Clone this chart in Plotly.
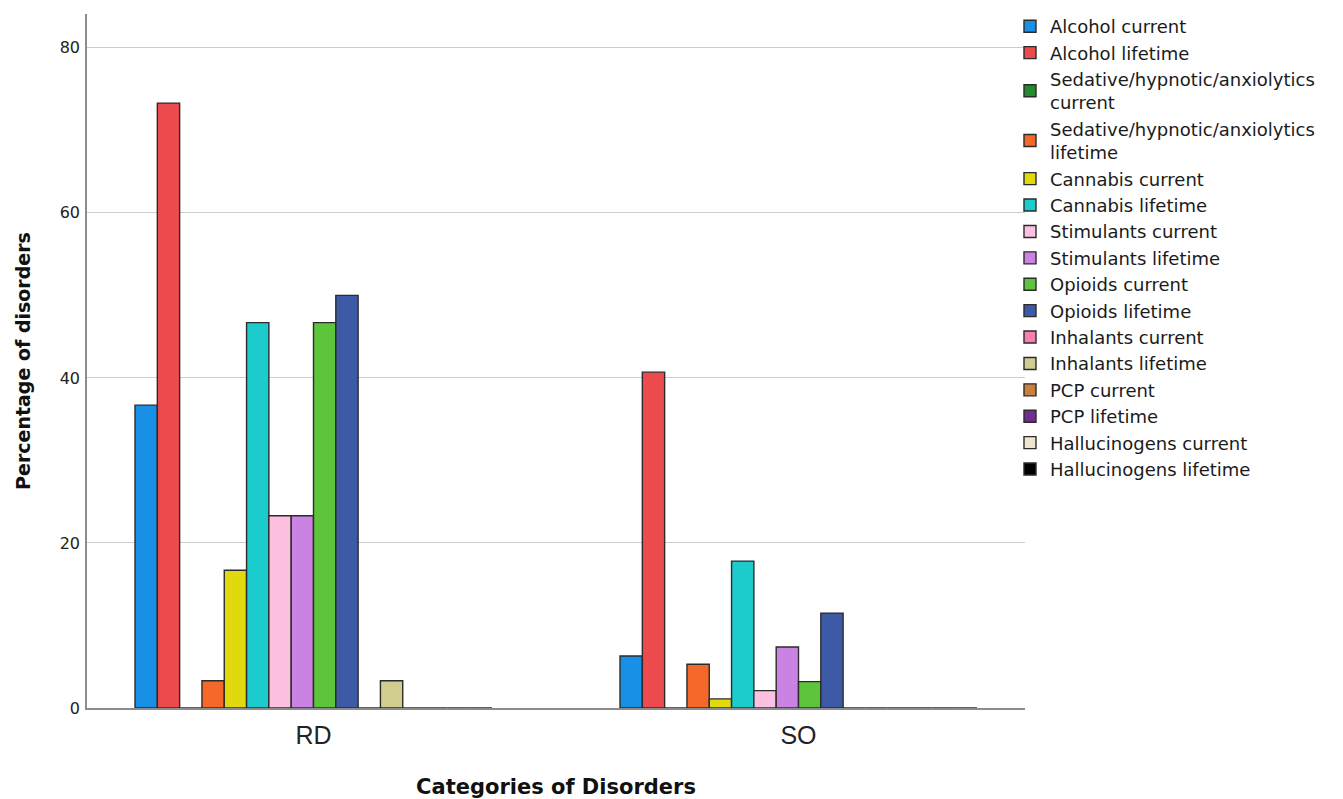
import plotly.graph_objects as go

categories = ["RD", "SO"]

series_names = [
    "Alcohol current", "Alcohol lifetime",
    "Sedative/hypnotic/anxiolytics<br>current", "Sedative/hypnotic/anxiolytics<br>lifetime",
    "Cannabis current", "Cannabis lifetime",
    "Stimulants current", "Stimulants lifetime",
    "Opioids current", "Opioids lifetime",
    "Inhalants current", "Inhalants lifetime",
    "PCP current", "PCP lifetime",
    "Hallucinogens current", "Hallucinogens lifetime",
]

rd_values = [36.7, 73.3, 0, 3.3, 16.7, 46.7, 23.3, 23.3, 46.7, 50.0, 0, 3.3, 0, 0, 0, 0]
so_values = [6.3, 40.7, 0, 5.3, 1.1, 17.8, 2.1, 7.4, 3.2, 11.5, 0, 0, 0, 0, 0, 0]

colors = [
    "#1790e6", "#ec4a4c", "#238b2e", "#f4682a", "#e1d80e", "#1ccbcb",
    "#fdc0e0", "#cb83e3", "#5ec43b", "#3d5aa6", "#f97fb0", "#d1cd90",
    "#c9803e", "#6f2d8f", "#ede5cf", "#000000",
]

fig = go.Figure()
for name, rd, so, col in zip(series_names, rd_values, so_values, colors):
    fig.add_trace(go.Bar(
        x=categories, y=[rd, so], name=name,
        marker=dict(color=col, line=dict(color="#2b2b2b", width=1.4)),
    ))

sans = "DejaVu Sans, Verdana, sans-serif"
arial = "Liberation Sans, Arial, sans-serif"

fig.update_layout(
    width=1335, height=791,
    barmode="group", bargap=0.264, bargroupgap=0,
    plot_bgcolor="white", paper_bgcolor="white",
    margin=dict(l=79, r=318, t=6, b=91, autoexpand=False),
    font=dict(family=sans, color="#222"),
    legend=dict(
        x=0.984, y=1.0086, xanchor="left", yanchor="top",
        font=dict(size=18, family=sans, color="#1a1a1a"),
        tracegroupgap=0, itemwidth=30, maxheight=1.0,
        bgcolor="rgba(0,0,0,0)",
    ),
    showlegend=True,
)

fig.update_xaxes(
    range=[-0.467, 1.467],
    showline=True, linecolor="#8c8c8c", linewidth=1.5,
    showgrid=False, ticks="", ticklabelstandoff=4,
    tickfont=dict(size=25, family=arial, color="#222"),
    title=dict(text="<b>Categories of Disorders</b>", font=dict(size=21, family=sans, color="#111"), standoff=34),
    zeroline=False,
)
fig.update_yaxes(
    range=[0, 84.1],
    tickvals=[0, 20, 40, 60, 80],
    showline=True, linecolor="#8c8c8c", linewidth=1.5,
    showgrid=True, gridcolor="#cccccc", gridwidth=1.2,
    ticks="", ticklabelstandoff=2,
    tickfont=dict(size=16, family=sans, color="#222"),
    title=dict(text="<b>Percentage of disorders</b>", font=dict(size=19, family=sans, color="#111"), standoff=24),
    zeroline=False,
)

fig.write_html("out.html")
